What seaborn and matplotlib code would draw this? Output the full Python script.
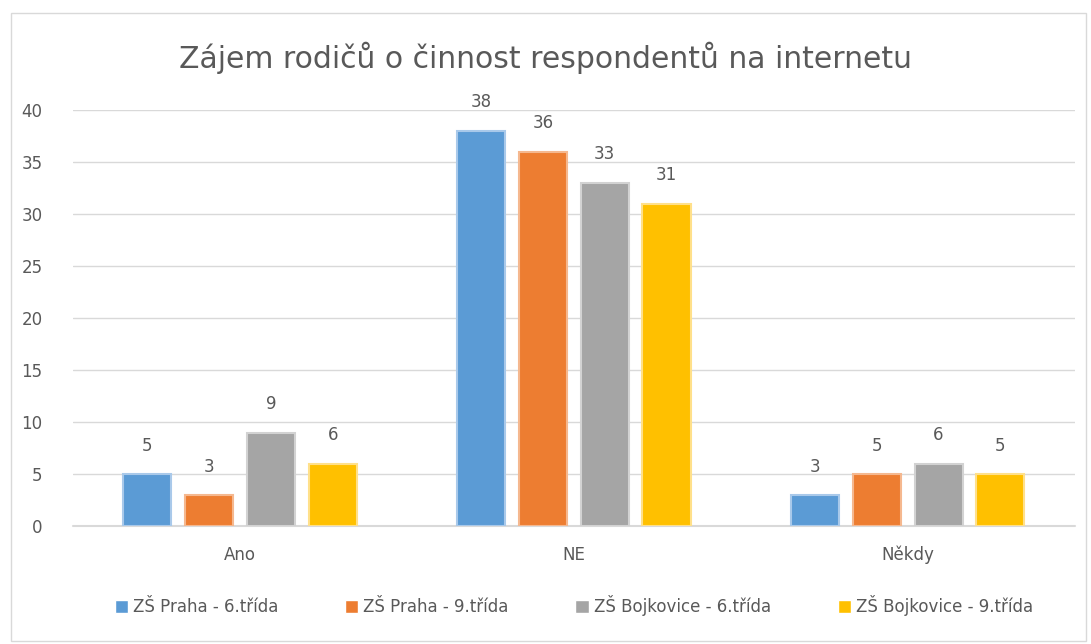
import seaborn as sns
import matplotlib.pyplot as plt
import pandas as pd

categories = ['Ano', 'NE', 'Někdy']
series = ['ZŠ Praha - 6.třída', 'ZŠ Praha - 9.třída',
          'ZŠ Bojkovice - 6.třída', 'ZŠ Bojkovice - 9.třída']
praha6 = [5, 38, 3]
praha9 = [3, 36, 5]
bojk6 = [9, 33, 6]
bojk9 = [6, 31, 5]
colors = ['#5B9BD5', '#ED7D31', '#A5A5A5', '#FFC000']
edges = ['#a9c9ea', '#f5b88f', '#d2d2d2', '#ffe08a']

rows = []
for name, vals in zip(series, [praha6, praha9, bojk6, bojk9]):
    for cat, v in zip(categories, vals):
        rows.append({'kat': cat, 'skola': name, 'pocet': v})
df = pd.DataFrame(rows)

sns.set_style("white")
plt.rcParams['font.family'] = ['DejaVu Sans']

fig = plt.figure(figsize=(10.91, 6.44), dpi=100)
ax = fig.add_axes([0.067, 0.183, 0.918, 0.646])

sns.barplot(data=df, x='kat', y='pocet', hue='skola', order=categories,
            hue_order=series, palette=colors, saturation=1, width=0.74,
            gap=0.22, ax=ax, legend=True)

for cont, ec in zip(ax.containers, edges):
    for p in cont:
        p.set_edgecolor(ec)
        p.set_linewidth(1.5)
    ax.bar_label(cont, padding=14, fontsize=12, color='#595959')

ax.set_ylim(0, 40)
ax.set_yticks(range(0, 41, 5))
ax.grid(axis='y', color='#d9d9d9', linewidth=1)
ax.axhline(0, color='#d9d9d9', linewidth=1.5, clip_on=False, zorder=0.5)
ax.set_axisbelow(True)
for s in ax.spines.values():
    s.set_visible(False)
ax.tick_params(axis='both', length=0, labelsize=12, colors='#595959')
ax.tick_params(axis='x', pad=14)
ax.tick_params(axis='y', pad=22)
ax.set_xlabel('')
ax.set_ylabel('')

fig.suptitle('Zájem rodičů o činnost respondentů na internetu',
             y=0.935, fontsize=21.5, color='#595959')

handles, labels = ax.get_legend_handles_labels()
ax.legend(handles, labels, loc='upper center', bbox_to_anchor=(0.5, -0.13),
          ncol=4, frameon=False, fontsize=12, labelcolor='#595959',
          handlelength=0.8, handleheight=0.8, handletextpad=0.3,
          columnspacing=4.0)

border = plt.Rectangle((0.01, 0.005), 0.985, 0.975, transform=fig.transFigure,
                       fill=False, edgecolor='#d9d9d9', linewidth=1)
fig.patches.append(border)

fig.savefig('out.png', dpi=100)
